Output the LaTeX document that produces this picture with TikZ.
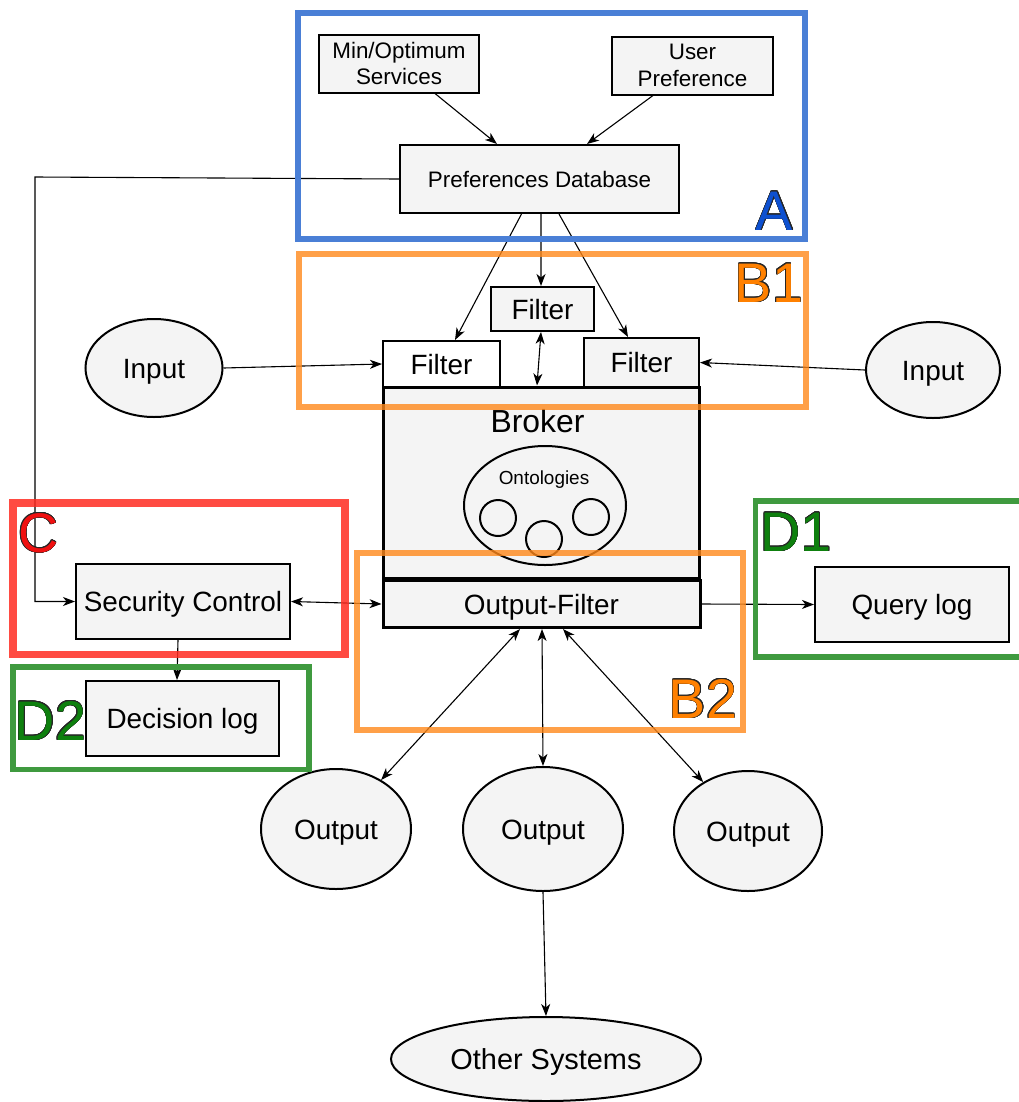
\documentclass[tikz,border=0pt]{standalone}
\usepackage{fontspec}
\setmainfont{Liberation Sans}
\usepackage{contour}
\contourlength{0.45bp}
\usetikzlibrary{arrows.meta,shapes.geometric}

\definecolor{boxgray}{HTML}{F4F4F4}
\definecolor{frameblue}{HTML}{4A7FD6}
\definecolor{frameorange}{HTML}{FF881A}
\definecolor{framered}{HTML}{FF2B21}
\definecolor{framegreen}{HTML}{3F9A3F}
\definecolor{lblblue}{HTML}{0D50D0}
\definecolor{lblorange}{HTML}{FF8000}
\definecolor{lblred}{HTML}{F01010}
\definecolor{lblgreen}{HTML}{0E800E}

\newcommand{\regionlabel}[2]{\contour{black!85}{\textcolor{#1}{#2}}}

\tikzset{
  sz/.style 2 args={minimum width=#1bp, minimum height=#2bp},
  capcentre/.style={text height=#1bp, text depth=0pt},
  capcentre/.default=20,
  box/.style={rectangle, draw, line width=2bp, fill=boxgray, inner sep=0pt,
    font=\fontsize{28}{32}\selectfont, capcentre},
  smallbox/.style={rectangle, draw, line width=2bp, fill=boxgray, inner sep=0pt,
    font=\fontsize{22.5}{26.5}\selectfont, align=center},
  oval/.style={ellipse, draw, line width=2bp, fill=boxgray, inner sep=0pt,
    font=\fontsize{28}{32}\selectfont, capcentre},
  arr/.style={line width=1.1bp, -{Stealth[length=12bp,width=9bp,inset=3.5bp]}},
  dbl/.style={line width=1.1bp, {Stealth[length=12bp,width=9bp,inset=3.5bp]}-{Stealth[length=12bp,width=9bp,inset=3.5bp]}},
  frame/.style={line width=#1bp},
  lbl/.style={anchor=base, inner sep=0pt, font=\fontsize{56}{60}\selectfont}
}

\begin{document}
\begin{tikzpicture}[x=1bp,y=-1bp]
\useasboundingbox (0,0) rectangle (1019,1102);

% preference sources and database
\node[smallbox, sz={160}{58}] (minsvc) at (399,63.5) {Min/Optimum\\Services};
\node[smallbox, sz={161}{58}] (userpref) at (692.5,65.5) {User\\Preference};
\node[smallbox, capcentre=16, sz={279}{68}] (prefdb) at (539.5,179) {Preferences Database};

% broker with its ontologies
\node[box, line width=3bp, sz={316}{191}] (broker) at (541,482.5) {};
\node[font=\fontsize{32}{36}\selectfont, capcentre=23, inner sep=0pt] (brokertxt) at (537.5,421) {Broker};
\node[ellipse, draw, line width=2bp, sz={162}{119}] (onto) at (545,505.5) {};
\node[font=\fontsize{19}{22}\selectfont, capcentre=13.6, inner sep=0pt] (ontotxt) at (544,478) {Ontologies};
\node[circle, draw, line width=2bp, minimum size=36bp, inner sep=0pt] (o1) at (498,518) {};
\node[circle, draw, line width=2bp, minimum size=36bp, inner sep=0pt] (o2) at (544,539) {};
\node[circle, draw, line width=2bp, minimum size=36bp, inner sep=0pt] (o3) at (591,517) {};
\node[box, line width=3bp, sz={317}{47}] (outfilter) at (541.5,604) {Output-Filter};

% input filters
\node[box, fill=white, sz={117}{46}] (filterL) at (441.5,364) {Filter};
\node[box, sz={103}{44}] (filterM) at (542.5,309) {Filter};
\node[box, sz={115}{49}] (filterR) at (641.5,362.5) {Filter};

% inputs
\node[oval, sz={137}{98}] (inputL) at (154,368) {Input};
\node[oval, sz={134}{96}] (inputR) at (933,370) {Input};

% security and logging
\node[box, sz={214}{75}] (secctl) at (183,601.5) {Security Control};
\node[box, sz={193}{75}] (declog) at (182.5,718.5) {Decision log};
\node[box, sz={194}{75}] (querylog) at (912,604.5) {Query log};

% outputs
\node[oval, sz={150}{120}] (out1) at (336,829) {Output};
\node[oval, sz={160}{124}] (out2) at (543,829) {Output};
\node[oval, sz={148}{120}] (out3) at (748,831) {Output};
\node[oval, sz={310}{84}, font=\fontsize{29}{33}\selectfont, capcentre=20.8] (other) at (546,1059) {Other Systems};

% connectors
\draw[arr] ([xshift=36bp]minsvc.south) -- ([xshift=-42.5bp]prefdb.north);
\draw[arr] ([xshift=-39.5bp]userpref.south) -- ([xshift=47.5bp]prefdb.north);
\draw[arr] ([xshift=-18bp]prefdb.south) -- ([xshift=13.5bp]filterL.north);
\draw[arr] ([xshift=1.5bp]prefdb.south) -- ([xshift=-1.5bp]filterM.north);
\draw[arr] ([xshift=19.5bp]prefdb.south) -- ([xshift=-13.5bp]filterR.north);
\draw[dbl] ([xshift=-1.5bp]filterM.south) -- ([xshift=-4bp]broker.north);
\draw[arr] (inputL.east) -- (filterL.west);
\draw[arr] (inputR.west) -- (filterR.east);
\coordinate (bend) at (35,177);
\draw[arr] (prefdb.west) -- (bend) |- (secctl.west);
\draw[dbl] (secctl.east) -- (outfilter.west);
\draw[arr] ([xshift=-5bp]secctl.south) -- ([xshift=-5.5bp]declog.north);
\draw[arr] (outfilter.east) -- (querylog.west);
\draw[dbl] ([xshift=-21.5bp]outfilter.south) -- (out1);
\draw[dbl] ([xshift=0.5bp]outfilter.south) -- (out2.north);
\draw[dbl] ([xshift=21.5bp]outfilter.south) -- (out3);
\draw[arr] (out2.south) -- (other.north);

% region frames
\draw[frame=6.5, frameblue] (298,13) rectangle (805,239);
\draw[frame=6, frameorange, opacity=0.8] (299,254) rectangle (806,407);
\draw[frame=6, frameorange, opacity=0.8] (357,553) rectangle (743,729.5);
\draw[frame=7.5, framered, opacity=0.85] (13,503) rectangle (345,654.5);
\draw[frame=5.5, framegreen] (13,667) rectangle (309,769.5);
\begin{scope}
  \clip (0,0) rectangle (1019,1102);
  \draw[frame=5.5, framegreen] (755.5,501) rectangle (1040,657);
\end{scope}

% region labels
\node[lbl] (labA) at (774.5,230) {\regionlabel{lblblue}{A}};
\node[lbl] (labB1) at (769,302) {\regionlabel{lblorange}{B1}};
\node[lbl] (labB2) at (703,718) {\regionlabel{lblorange}{B2}};
\node[lbl] (labC) at (38.5,552) {\regionlabel{lblred}{C}};
\node[lbl] (labD1) at (796,551) {\regionlabel{lblgreen}{D1}};
\node[lbl] (labD2) at (50.5,740) {\regionlabel{lblgreen}{D2}};
\end{tikzpicture}
\end{document}
